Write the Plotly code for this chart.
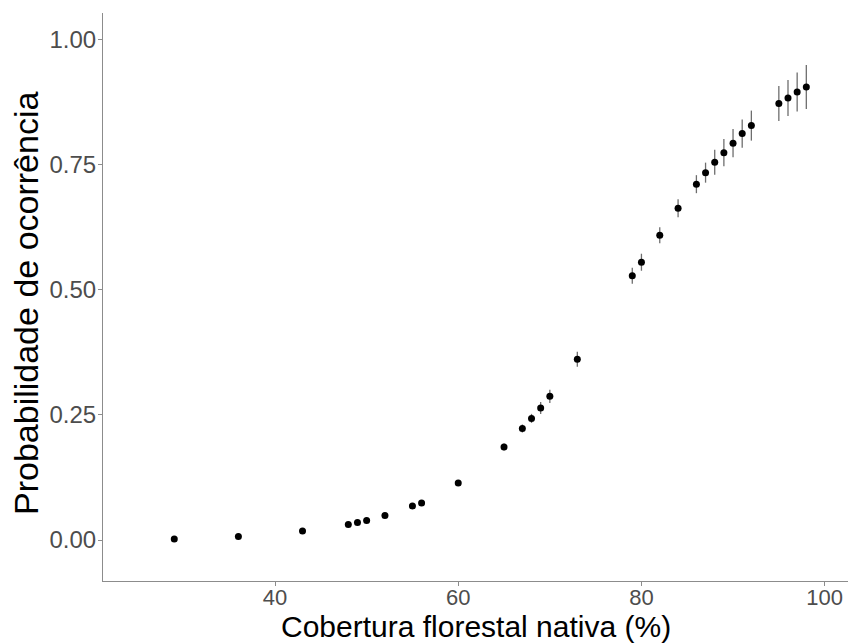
import plotly.graph_objects as go

# Native forest cover (%) and predicted probability of occurrence
cobertura = [29, 36, 43, 48, 49, 50, 52, 55, 56, 60, 65, 67, 68, 69, 70, 73,
             79, 80, 82, 84, 86, 87, 88, 89, 90, 91, 92, 95, 96, 97, 98]
probabilidade = [0.002, 0.007, 0.018, 0.031, 0.035, 0.039, 0.049, 0.068, 0.074,
                 0.114, 0.186, 0.223, 0.243, 0.264, 0.287, 0.361, 0.528, 0.555,
                 0.609, 0.663, 0.711, 0.734, 0.755, 0.774, 0.793, 0.812, 0.828,
                 0.872, 0.883, 0.895, 0.905]
erro = [0.001, 0.001, 0.002, 0.003, 0.003, 0.003, 0.004, 0.005, 0.005, 0.006,
        0.007, 0.008, 0.009, 0.012, 0.013, 0.015, 0.016, 0.017, 0.016, 0.018,
        0.018, 0.020, 0.025, 0.027, 0.028, 0.028, 0.030, 0.035, 0.036, 0.039,
        0.044]

x_ticks = [40, 60, 80, 100]
y_ticks = [0.0, 0.25, 0.5, 0.75, 1.0]
y_tick_text = ["0.00", "0.25", "0.50", "0.75", "1.00"]

FONT = "Liberation Sans, Arial, sans-serif"
AXIS_GREY = "#8c8c8c"
LABEL_GREY = "#4d4d4d"

fig = go.Figure()
fig.add_trace(go.Scatter(
    x=cobertura,
    y=probabilidade,
    mode="markers",
    marker=dict(color="black", size=7),
    error_y=dict(type="data", array=erro, visible=True,
                 color="#6e6e6e", thickness=1.3, width=0),
    showlegend=False,
))

fig.update_layout(
    width=848, height=644,
    margin=dict(l=103, r=0, t=13, b=63),
    paper_bgcolor="white",
    plot_bgcolor="white",
    font=dict(family=FONT),
    xaxis=dict(
        range=[21.22, 102.55],
        tickvals=x_ticks,
        showgrid=False, zeroline=False,
        showline=True, linecolor=AXIS_GREY, linewidth=1.2,
        ticks="outside", ticklen=4, tickwidth=1, tickcolor=AXIS_GREY,
        ticklabelstandoff=-8,
        tickfont=dict(size=22, color=LABEL_GREY, family=FONT),
    ),
    yaxis=dict(
        range=[-0.0819, 1.053],
        tickvals=y_ticks, ticktext=y_tick_text,
        showgrid=False, zeroline=False,
        showline=True, linecolor=AXIS_GREY, linewidth=1.2,
        ticks="outside", ticklen=4, tickwidth=1, tickcolor=AXIS_GREY,
        ticklabelstandoff=-3,
        tickfont=dict(size=24, color=LABEL_GREY, family=FONT),
    ),
    annotations=[
        dict(text="Cobertura florestal nativa (%)", xref="paper", yref="paper",
             x=0.5, y=(581 - 626) / 568, xanchor="center", yanchor="middle",
             showarrow=False, font=dict(size=30, color="black", family=FONT)),
        dict(text="Probabilidade de ocorrência", xref="paper", yref="paper",
             x=(26 - 103) / 745, y=(581 - 304) / 568, xanchor="center",
             yanchor="middle", textangle=-90, showarrow=False,
             font=dict(size=34, color="black", family=FONT)),
    ],
)

fig.write_html("out.html")
